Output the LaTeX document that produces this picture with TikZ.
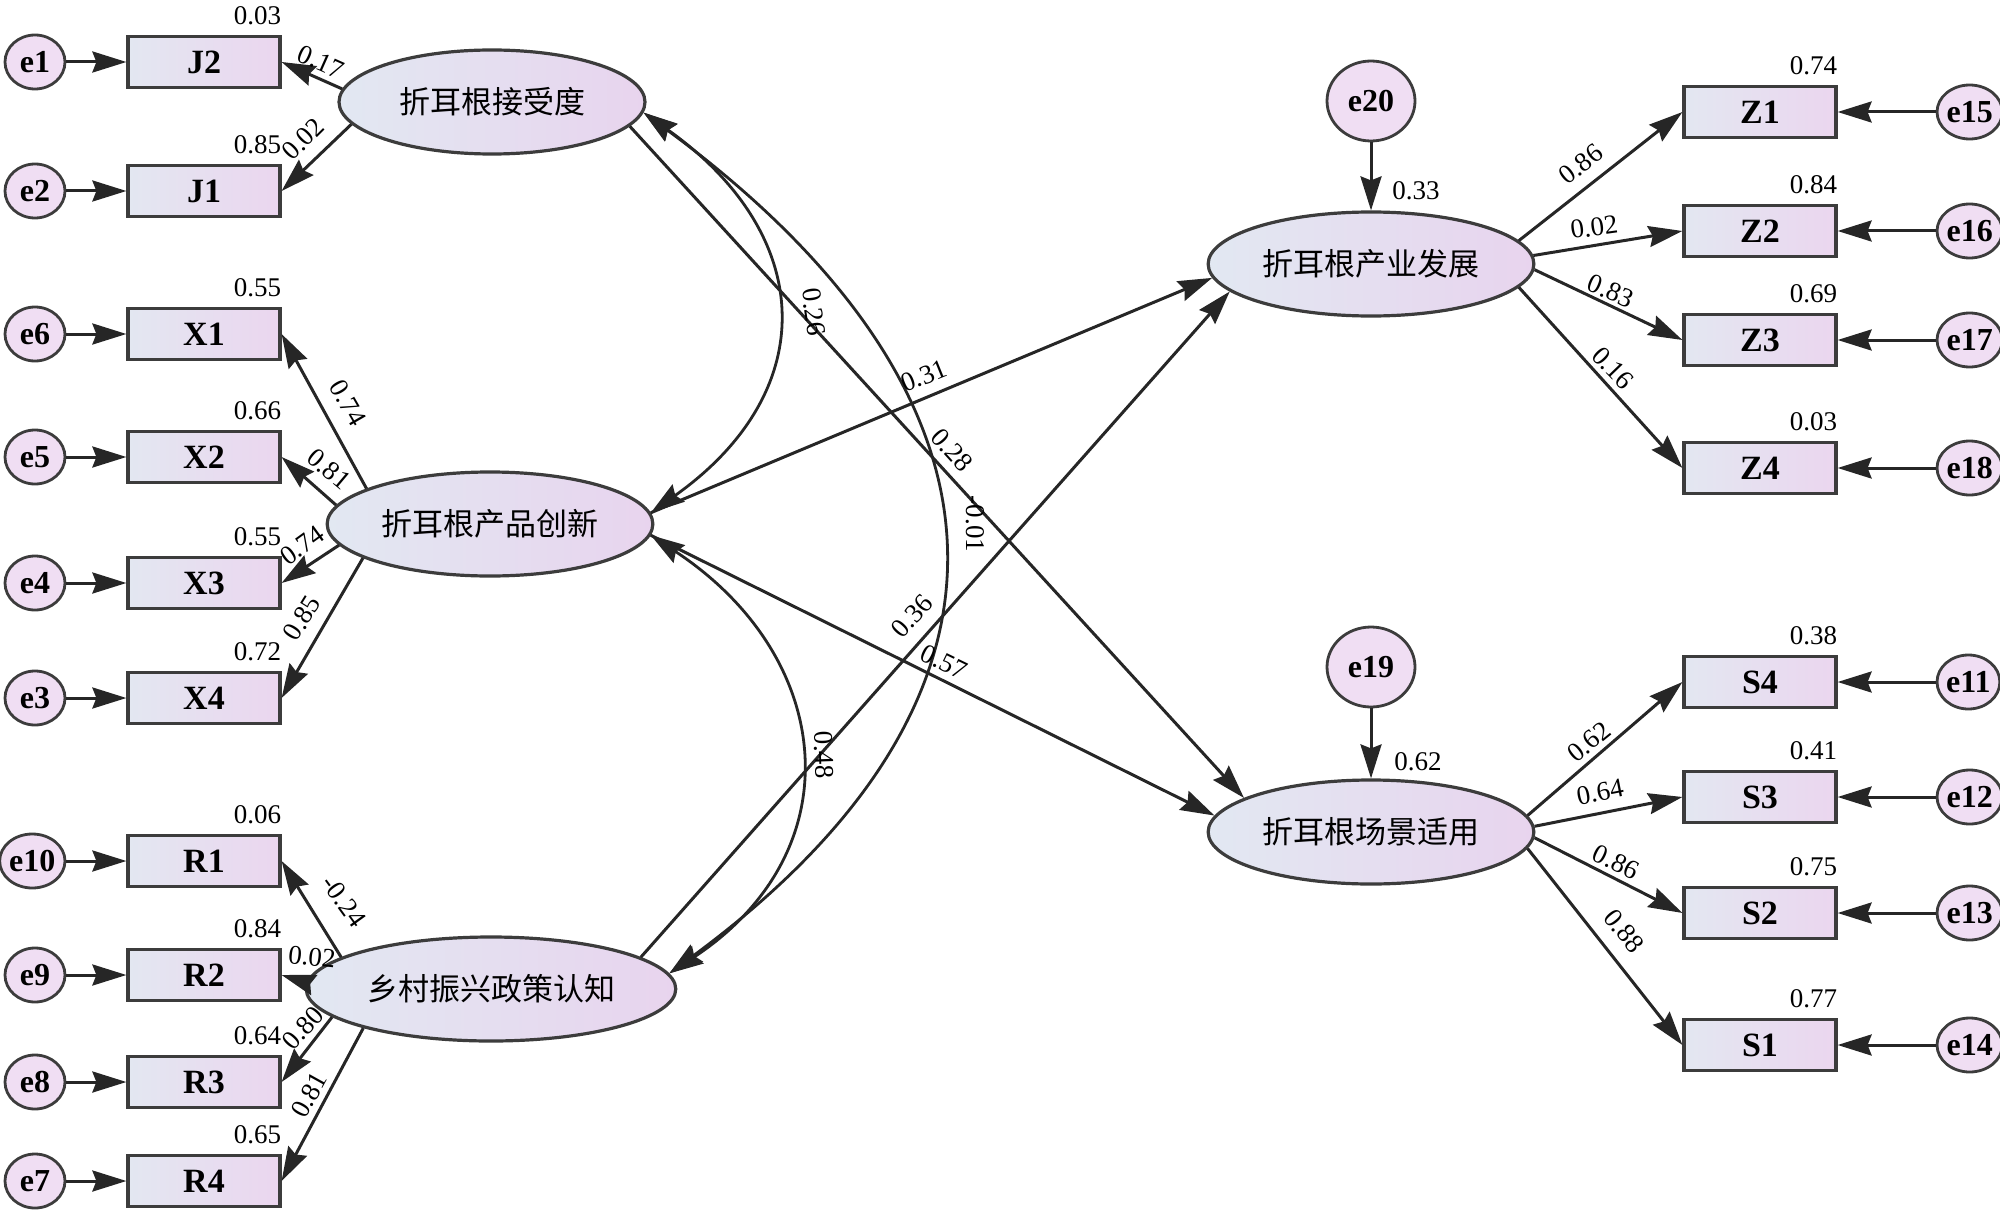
\documentclass[tikz,border=0pt]{standalone}
\usepackage{fontspec}
\setmainfont{Liberation Serif}
\newfontfamily\cjk{Noto Sans CJK SC}
\usepackage{tikz}
\usetikzlibrary{shapes.geometric, arrows.meta, positioning}
\definecolor{linedark}{HTML}{262626}
\definecolor{rim}{HTML}{3C3C3C}
\definecolor{boxleft}{HTML}{E3E7F1}
\definecolor{boxright}{HTML}{EBD6EF}
\definecolor{latleft}{HTML}{E2E8F2}
\definecolor{latright}{HTML}{E8D4EE}
\definecolor{errfill}{HTML}{F0DEF3}

\begin{document}
\begin{tikzpicture}[
  x=0.5pt, y=-0.5pt,
  node distance = 30pt,
  obs/.style  = {rectangle, draw=rim, line width=1.6pt, minimum width=76pt, minimum height=25.5pt,
                 left color=boxleft, right color=boxright, font=\fontsize{17}{17}\selectfont\bfseries},
  lat/.style  = {ellipse, draw=rim, line width=1.6pt, minimum width=153pt, minimum height=52pt,
                 left color=latleft, right color=latright, font=\cjk\fontsize{15.5}{16}\selectfont},
  err/.style  = {ellipse, draw=rim, line width=1.4pt, minimum width=30pt, minimum height=27pt,
                 inner sep=0pt, fill=errfill, font=\fontsize{16}{16}\selectfont\bfseries},
  num/.style  = {inner sep=0pt, font=\fontsize{13.5}{13.5}\selectfont},
  regr/.style = {-{Stealth[length=17pt, width=10.5pt, inset=2pt]}, line width=1.5pt, color=linedark},
  cov/.style  = {{Stealth[length=17pt, width=10.5pt, inset=2pt]}-{Stealth[length=17pt, width=10.5pt, inset=2pt]},
                 line width=1.4pt, color=linedark},
]
  \useasboundingbox (0,0) rectangle (2000,1214);

  \node[lat] (jsd)  at (492,102)  {折耳根接受度};
  \node[lat] (cpcx) at (490,524)  {折耳根产品创新};
  \node[lat] (xczx) at (491,989)  {乡村振兴政策认知};
  \node[lat] (cyfz) at (1371,264) {折耳根产业发展};
  \node[lat] (cjsy) at (1371,832) {折耳根场景适用};

  \node[obs] (J2) at (204,62)   {J2};
  \node[obs] (J1) at (204,191)  {J1};
  \node[obs] (X1) at (204,334)  {X1};
  \node[obs] (X2) at (204,457)  {X2};
  \node[obs] (X3) at (204,583)  {X3};
  \node[obs] (X4) at (204,698)  {X4};
  \node[obs] (R1) at (204,861)  {R1};
  \node[obs] (R2) at (204,975)  {R2};
  \node[obs] (R3) at (204,1082) {R3};
  \node[obs] (R4) at (204,1181) {R4};

  \node[obs] (Z1) at (1760,112)  {Z1};
  \node[obs] (Z2) at (1760,231)  {Z2};
  \node[obs] (Z3) at (1760,340)  {Z3};
  \node[obs] (Z4) at (1760,468)  {Z4};
  \node[obs] (S4) at (1760,682)  {S4};
  \node[obs] (S3) at (1760,797)  {S3};
  \node[obs] (S2) at (1760,913)  {S2};
  \node[obs] (S1) at (1760,1045) {S1};

  \node[err, left=of J2] (e1)  {e1};
  \node[err, left=of J1] (e2)  {e2};
  \node[err, left=of X1] (e6)  {e6};
  \node[err, left=of X2] (e5)  {e5};
  \node[err, left=of X3] (e4)  {e4};
  \node[err, left=of X4] (e3)  {e3};
  \node[err, left=of R1] (e10) {e10};
  \node[err, left=of R2] (e9)  {e9};
  \node[err, left=of R3] (e8)  {e8};
  \node[err, left=of R4] (e7)  {e7};

  \node[err, right=49pt of Z1] (e15) {e15};
  \node[err, right=49pt of Z2] (e16) {e16};
  \node[err, right=49pt of Z3] (e17) {e17};
  \node[err, right=49pt of Z4] (e18) {e18};
  \node[err, right=49pt of S4] (e11) {e11};
  \node[err, right=49pt of S3] (e12) {e12};
  \node[err, right=49pt of S2] (e13) {e13};
  \node[err, right=49pt of S1] (e14) {e14};

  \node[err, minimum width=44pt, minimum height=40pt, above=34pt of cyfz] (e20) {e20};
  \node[err, minimum width=44pt, minimum height=40pt, above=35pt of cjsy] (e19) {e19};

  \node[num, above left=5pt and 0pt of J2.north east] (vJ2) {0.03};
  \node[num, above left=5pt and 0pt of J1.north east] (vJ1) {0.85};
  \node[num, above left=5pt and 0pt of X1.north east] (vX1) {0.55};
  \node[num, above left=5pt and 0pt of X2.north east] (vX2) {0.66};
  \node[num, above left=5pt and 0pt of X3.north east] (vX3) {0.55};
  \node[num, above left=5pt and 0pt of X4.north east] (vX4) {0.72};
  \node[num, above left=5pt and 0pt of R1.north east] (vR1) {0.06};
  \node[num, above left=5pt and 0pt of R2.north east] (vR2) {0.84};
  \node[num, above left=5pt and 0pt of R3.north east] (vR3) {0.64};
  \node[num, above left=5pt and 0pt of R4.north east] (vR4) {0.65};
  \node[num, above left=5pt and 0pt of Z1.north east] (vZ1) {0.74};
  \node[num, above left=5pt and 0pt of Z2.north east] (vZ2) {0.84};
  \node[num, above left=5pt and 0pt of Z3.north east] (vZ3) {0.69};
  \node[num, above left=5pt and 0pt of Z4.north east] (vZ4) {0.03};
  \node[num, above left=5pt and 0pt of S4.north east] (vS4) {0.38};
  \node[num, above left=5pt and 0pt of S3.north east] (vS3) {0.41};
  \node[num, above left=5pt and 0pt of S2.north east] (vS2) {0.75};
  \node[num, above left=5pt and 0pt of S1.north east] (vS1) {0.77};

  \draw[regr] (e1)  -- (J2);
  \draw[regr] (e2)  -- (J1);
  \draw[regr] (e6)  -- (X1);
  \draw[regr] (e5)  -- (X2);
  \draw[regr] (e4)  -- (X3);
  \draw[regr] (e3)  -- (X4);
  \draw[regr] (e10) -- (R1);
  \draw[regr] (e9)  -- (R2);
  \draw[regr] (e8)  -- (R3);
  \draw[regr] (e7)  -- (R4);
  \draw[regr] (e15) -- (Z1);
  \draw[regr] (e16) -- (Z2);
  \draw[regr] (e17) -- (Z3);
  \draw[regr] (e18) -- (Z4);
  \draw[regr] (e11) -- (S4);
  \draw[regr] (e12) -- (S3);
  \draw[regr] (e13) -- (S2);
  \draw[regr] (e14) -- (S1);
  \draw[regr] (e20) -- (cyfz);
  \draw[regr] (e19) -- (cjsy);

  \draw[regr] (jsd.175)  -- (J2.east);
  \draw[regr] (jsd.189)  -- (J1.east);
  \draw[regr] (cpcx.164) -- (X1.east);
  \draw[regr] (cpcx.173) -- (X2.east);
  \draw[regr] (cpcx.188) -- (X3.east);
  \draw[regr] (cpcx.195) -- (X4.east);
  \draw[regr] (xczx.168) -- (R1.east);
  \draw[regr] (xczx.178) -- (R2.east);
  \draw[regr] (xczx.190) -- (R3.east);
  \draw[regr] (xczx.197) -- (R4.east);
  \draw[regr] (cyfz.9)   -- (Z1.west);
  \draw[regr] (cyfz.3)   -- (Z2.west);
  \draw[regr] (cyfz.-2)  -- (Z3.west);
  \draw[regr] (cyfz.-9)  -- (Z4.west);
  \draw[regr] (cjsy.6)   -- (S4.west);
  \draw[regr] (cjsy.2)   -- (S3.west);
  \draw[regr] (cjsy.-2)  -- (S2.west);
  \draw[regr] (cjsy.-6)  -- (S1.west);

  \draw[regr] (jsd.-10)  -- (cjsy.165);
  \draw[regr] (cpcx.4)   -- (cyfz.185);
  \draw[regr] (cpcx.-4)  -- (cjsy.174);
  \draw[regr] (xczx.12)  -- (cyfz.191);

  \draw[cov] (jsd.-4)  .. controls +(172,122) and +(172,-122) .. (cpcx.4);
  \draw[cov] (cpcx.-4) .. controls +(185,122) and +(185,-122) .. (xczx.5);
  \draw[cov] (jsd.-4)  .. controls +(380,280) and +(380,-280) .. (xczx.5);

  \node[num, rotate=-24] (lJ2) at (321,62)   {0.17};
  \node[num, rotate=45]  (lJ1) at (303,139)  {0.02};
  \node[num, rotate=-60] (lX1) at (348,403)  {0.74};
  \node[num, rotate=-40] (lX2) at (329,469)  {0.81};
  \node[num, rotate=36]  (lX3) at (302,545)  {0.74};
  \node[num, rotate=58]  (lX4) at (302,618)  {0.85};
  \node[num, rotate=-54] (lR1) at (344,901)  {-0.24};
  \node[num, rotate=-6]  (lR2) at (312,957)  {0.02};
  \node[num, rotate=48]  (lR3) at (303,1028) {0.80};
  \node[num, rotate=61]  (lR4) at (309,1095) {0.81};
  \node[num, rotate=38]  (lZ1) at (1581,164) {0.86};
  \node[num, rotate=8]   (lZ2) at (1594,227) {0.02};
  \node[num, rotate=-23] (lZ3) at (1611,291) {0.83};
  \node[num, rotate=-46] (lZ4) at (1613,368) {0.16};
  \node[num, rotate=39]  (lS4) at (1589,742) {0.62};
  \node[num, rotate=11]  (lS3) at (1600,792) {0.64};
  \node[num, rotate=-26] (lS2) at (1616,862) {0.86};
  \node[num, rotate=-51] (lS1) at (1624,931) {0.88};

  \node[num, rotate=-48] (ljs) at (952,450)  {0.28};
  \node[num, rotate=22]  (lcc) at (924,376)  {0.31};
  \node[num, rotate=-26] (lcs) at (944,662)  {0.57};
  \node[num, rotate=48]  (lxc) at (912,616)  {0.36};
  \node[num]             (le20) at (1416,191) {0.33};
  \node[num]             (le19) at (1418,762) {0.62};
  \node[num, rotate=-82] (ljc) at (814,312)  {0.26};
  \node[num, rotate=-88] (lcx) at (824,755)  {0.48};
  \node[num, rotate=-90] (ljx) at (975,524)  {-0.01};
\end{tikzpicture}
\end{document}
